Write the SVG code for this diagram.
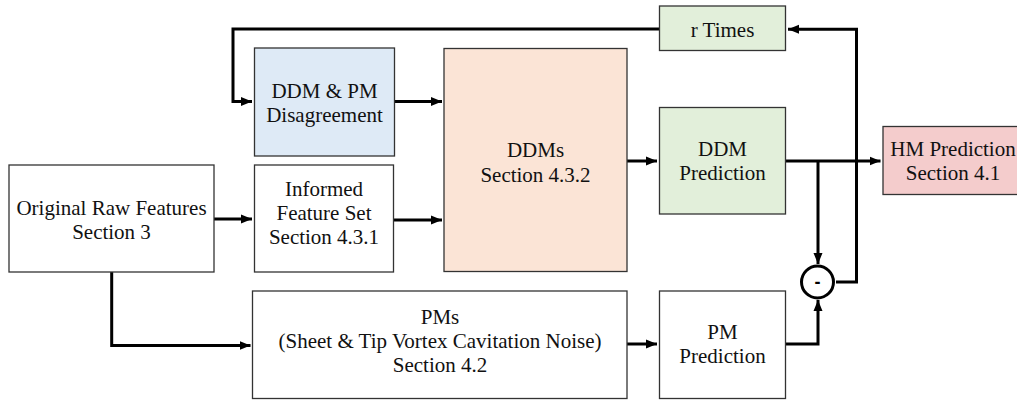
<svg xmlns="http://www.w3.org/2000/svg" width="1017" height="404" viewBox="0 0 1017 404">
<defs>
<marker id="ah" markerUnits="userSpaceOnUse" markerWidth="12" markerHeight="12" viewBox="0 0 12 12" refX="11" refY="6" orient="auto">
<path d="M0,1.5 L11,6 L0,10.5 Z" fill="#000"/>
</marker>
<style>
.box{stroke:#333;stroke-width:1.3}
.t{font-family:"Liberation Serif","Times New Roman",serif;font-size:21px;fill:#111;text-anchor:middle}
.c{fill:none;stroke:#000;stroke-width:3}
.a{marker-end:url(#ah)}
</style>
</defs>
<rect width="1017" height="404" fill="#fff"/>
<g id="connectors">
<path class="c a" d="M659,29 H233 V101.5 H252"/>
<path class="c a" d="M836,282 H856.5 V29.3 H788"/>
<path class="c a" d="M394,101.5 H442"/>
<path class="c a" d="M214,219 H252"/>
<path class="c a" d="M393,220 H442"/>
<path class="c a" d="M627,161 H657"/>
<path class="c a" d="M786,161 H880.5"/>
<path class="c a" d="M818,161 V264"/>
<path class="c a" d="M786,344 H818 V300"/>
<path class="c a" d="M111.7,272 V345.5 H250.5"/>
<path class="c a" d="M627,344 H657"/>
</g>
<g id="orig"><rect class="box" x="9" y="165" width="205" height="107" fill="#fff"/><text class="t" x="111.5" y="215">Original Raw Features</text><text class="t" x="111.5" y="239">Section 3</text></g>
<g id="informed"><rect class="box" x="254.5" y="165" width="139" height="107" fill="#fff"/><text class="t" x="324" y="196">Informed</text><text class="t" x="324" y="220">Feature Set</text><text class="t" x="324" y="244">Section 4.3.1</text></g>
<g id="disagree"><rect class="box" x="254.5" y="48" width="140" height="108" fill="#deeaf6"/><text class="t" x="324.5" y="98">DDM &amp; PM</text><text class="t" x="324.5" y="122">Disagreement</text></g>
<g id="ddms"><rect class="box" x="444" y="48.5" width="183" height="223" fill="#fbe4d6"/><text class="t" x="535.5" y="157">DDMs</text><text class="t" x="535.5" y="182">Section 4.3.2</text></g>
<g id="rtimes"><rect class="box" x="659.5" y="6" width="126" height="44.5" fill="#e2efda"/><text class="t" x="722.5" y="37">r Times</text></g>
<g id="ddmpred"><rect class="box" x="659.5" y="107.5" width="126" height="106.5" fill="#e2efda"/><text class="t" x="722.5" y="156">DDM</text><text class="t" x="722.5" y="180">Prediction</text></g>
<g id="hm"><rect class="box" x="883" y="126.5" width="145" height="68" fill="#f4cccc"/><text class="t" x="953" y="156">HM Prediction</text><text class="t" x="953" y="180">Section 4.1</text></g>
<g id="minus"><circle cx="817.5" cy="282" r="16" fill="#fff" stroke="#000" stroke-width="3"/><text x="817.5" y="288" style="font-family:'Liberation Sans',Arial,sans-serif;font-size:18px;font-weight:bold;text-anchor:middle">-</text></g>
<g id="pms"><rect class="box" x="252.5" y="291" width="374.5" height="107.5" fill="#fff"/><text class="t" x="440" y="324">PMs</text><text class="t" x="440" y="348">(Sheet &amp; Tip Vortex Cavitation Noise)</text><text class="t" x="440" y="372">Section 4.2</text></g>
<g id="pmpred"><rect class="box" x="659.5" y="291" width="126" height="107.5" fill="#fff"/><text class="t" x="722.5" y="339">PM</text><text class="t" x="722.5" y="363">Prediction</text></g>
</svg>
